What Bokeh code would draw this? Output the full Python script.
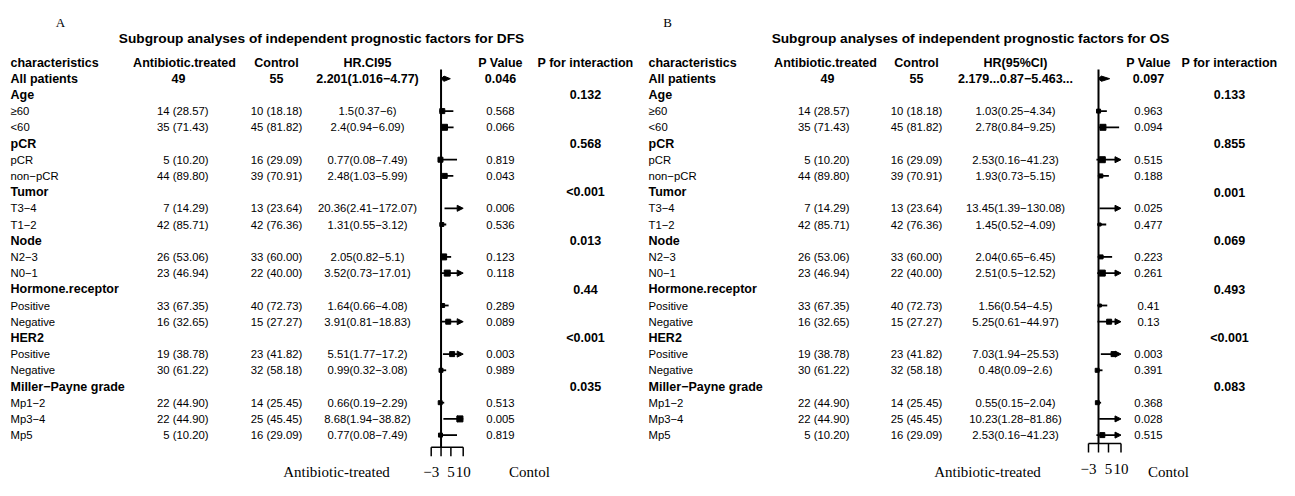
from bokeh.plotting import figure
from bokeh.models import Range1d, ColumnDataSource, Arrow, NormalHead
from bokeh.core.properties import value
from bokeh.embed import file_html
from bokeh.resources import INLINE

# ---------------- data ----------------
LABELS = ["All patients", "Age", "≥60", "<60", "pCR", "pCR", "non−pCR", "Tumor", "T3−4", "T1−2",
          "Node", "N2−3", "N0−1", "Hormone.receptor", "Positive", "Negative", "HER2", "Positive",
          "Negative", "Miller−Payne grade", "Mp1−2", "Mp3−4", "Mp5"]
BOLD_ROW = [True, True, False, False, True, False, False, True, False, False, True, False, False,
            True, False, False, True, False, False, True, False, False, False]
HEADERS_A = ["characteristics", "Antibiotic.treated", "Control", "HR.CI95", "P Value", "P for interaction"]
HEADERS_B = ["characteristics", "Antibiotic.treated", "Control", "HR(95%CI)", "P Value", "P for interaction"]

ANTIBIOTIC = ["49", "", "14 (28.57)", "35 (71.43)", "", "5 (10.20)", "44 (89.80)", "", "7 (14.29)",
              "42 (85.71)", "", "26 (53.06)", "23 (46.94)", "", "33 (67.35)", "16 (32.65)", "",
              "19 (38.78)", "30 (61.22)", "", "22 (44.90)", "22 (44.90)", "5 (10.20)"]
CONTROL = ["55", "", "10 (18.18)", "45 (81.82)", "", "16 (29.09)", "39 (70.91)", "", "13 (23.64)",
           "42 (76.36)", "", "33 (60.00)", "22 (40.00)", "", "40 (72.73)", "15 (27.27)", "",
           "23 (41.82)", "32 (58.18)", "", "14 (25.45)", "25 (45.45)", "16 (29.09)"]

DFS_HR_TEXT = ["2.201(1.016−4.77)", "", "1.5(0.37−6)", "2.4(0.94−6.09)", "", "0.77(0.08−7.49)",
               "2.48(1.03−5.99)", "", "20.36(2.41−172.07)", "1.31(0.55−3.12)", "", "2.05(0.82−5.1)",
               "3.52(0.73−17.01)", "", "1.64(0.66−4.08)", "3.91(0.81−18.83)", "", "5.51(1.77−17.2)",
               "0.99(0.32−3.08)", "", "0.66(0.19−2.29)", "8.68(1.94−38.82)", "0.77(0.08−7.49)"]
DFS_HR = [2.201, None, 1.5, 2.4, None, 0.77, 2.48, None, 20.36, 1.31, None, 2.05, 3.52, None,
          1.64, 3.91, None, 5.51, 0.99, None, 0.66, 8.68, 0.77]
DFS_LO = [1.016, None, 0.37, 0.94, None, 0.08, 1.03, None, 2.41, 0.55, None, 0.82, 0.73, None,
          0.66, 0.81, None, 1.77, 0.32, None, 0.19, 1.94, 0.08]
DFS_HI = [4.77, None, 6, 6.09, None, 7.49, 5.99, None, 172.07, 3.12, None, 5.1, 17.01, None,
          4.08, 18.83, None, 17.2, 3.08, None, 2.29, 38.82, 7.49]
DFS_P = ["0.046", "", "0.568", "0.066", "", "0.819", "0.043", "", "0.006", "0.536", "", "0.123",
         "0.118", "", "0.289", "0.089", "", "0.003", "0.989", "", "0.513", "0.005", "0.819"]
DFS_PINT = ["", "0.132", "", "", "0.568", "", "", "<0.001", "", "", "0.013", "", "", "0.44", "",
            "", "<0.001", "", "", "0.035", "", "", ""]

OS_HR_TEXT = ["2.179...0.87−5.463...", "", "1.03(0.25−4.34)", "2.78(0.84−9.25)", "", "2.53(0.16−41.23)",
              "1.93(0.73−5.15)", "", "13.45(1.39−130.08)", "1.45(0.52−4.09)", "", "2.04(0.65−6.45)",
              "2.51(0.5−12.52)", "", "1.56(0.54−4.5)", "5.25(0.61−44.97)", "", "7.03(1.94−25.53)",
              "0.48(0.09−2.6)", "", "0.55(0.15−2.04)", "10.23(1.28−81.86)", "2.53(0.16−41.23)"]
OS_HR = [2.179, None, 1.03, 2.78, None, 2.53, 1.93, None, 13.45, 1.45, None, 2.04, 2.51, None,
         1.56, 5.25, None, 7.03, 0.48, None, 0.55, 10.23, 2.53]
OS_LO = [0.87, None, 0.25, 0.84, None, 0.16, 0.73, None, 1.39, 0.52, None, 0.65, 0.5, None,
         0.54, 0.61, None, 1.94, 0.09, None, 0.15, 1.28, 0.16]
OS_HI = [5.463, None, 4.34, 9.25, None, 41.23, 5.15, None, 130.08, 4.09, None, 6.45, 12.52, None,
         4.5, 44.97, None, 25.53, 2.6, None, 2.04, 81.86, 41.23]
OS_P = ["0.097", "", "0.963", "0.094", "", "0.515", "0.188", "", "0.025", "0.477", "", "0.223",
        "0.261", "", "0.41", "0.13", "", "0.003", "0.391", "", "0.368", "0.028", "0.515"]
OS_PINT = ["", "0.133", "", "", "0.855", "", "", "0.001", "", "", "0.069", "", "", "0.493", "",
           "", "<0.001", "", "", "0.083", "", "", ""]

AXIS_TICKS = [-3, 1, 5, 10]
AXIS_TICK_LABELS = ["−3", "", "5", "10"]
X_MIN, X_MAX = -3, 10
REF_LINE = 1

# box sizes (px)
DFS_BOX = [0, 0, 5, 6, 0, 5, 5, 0, 0, 4, 0, 6, 6, 0, 4, 5, 0, 5, 4, 0, 4, 6, 4]
OS_BOX = [0, 0, 4, 6, 0, 6, 4, 0, 0, 3, 0, 4, 6, 0, 3, 5, 0, 5, 4, 0, 4, 0, 5]

# ---------------- layout ----------------
W, H = 1279, 480
PITCH = 16.2          # px per row
HEADER_PX = 62        # frame y of header row
row_top = -HEADER_PX / PITCH
row_bot = row_top + H / PITCH


def row_of(px):
    return (px - HEADER_PX) / PITCH


p = figure(width=W, height=H, output_backend="svg", toolbar_location=None,
           x_range=Range1d(0, W), y_range=Range1d(row_bot, row_top),
           min_border=0, outline_line_color=None)
p.axis.visible = False
p.grid.visible = False
p.background_fill_color = "white"
p.border_fill_color = "white"

SANS = value("Liberation Sans")
SERIF = value("Liberation Serif")
BIG = "12.5px"
SMALL = "11.3px"


def forest_range(px_lo, px_hi):
    k = (px_hi - px_lo) / (X_MAX - X_MIN)
    start = X_MIN - px_lo / k
    return Range1d(start, start + W / k)


def put(x, rows, texts, align="center", bold=False, size=SMALL, font=SANS):
    keep = [(r, t) for r, t in zip(rows, texts) if t != ""]
    if not keep:
        return
    src = ColumnDataSource(dict(x=[x] * len(keep), y=[k[0] for k in keep], t=[k[1] for k in keep]))
    p.text(x="x", y="y", text="t", source=src, text_align=align, text_baseline="middle",
           text_font=font, text_font_size=size, text_font_style="bold" if bold else "normal",
           text_color="black")


ROWS = list(range(1, len(LABELS) + 1))


def panel(cfg, headers, hr_text, hr, lo, hi, pv, pint, box, rng_name, title, letter):
    c = cfg
    put(c["letter"], [row_of(22)], [letter], align="center", size="13px", font=SERIF)
    put(c["title"], [row_of(38)], [title], bold=True, size="13.7px")
    # header
    put(c["lab"], [0], [headers[0]], align="left", bold=True, size=BIG)
    put(c["ab_h"], [0], [headers[1]], bold=True, size=BIG)
    put(c["ct"], [0], [headers[2]], bold=True, size=BIG)
    put(c["hr"], [0], [headers[3]], bold=True, size=BIG)
    put(c["p"], [0], [headers[4]], bold=True, size=BIG)
    put(c["pi"], [0], [headers[5]], bold=True, size=BIG)
    # labels
    put(c["lab"], [r for r, b in zip(ROWS, BOLD_ROW) if b], [l for l, b in zip(LABELS, BOLD_ROW) if b],
        align="left", bold=True, size=BIG)
    put(c["lab"], [r for r, b in zip(ROWS, BOLD_ROW) if not b], [l for l, b in zip(LABELS, BOLD_ROW) if not b],
        align="left", size=SMALL)
    # first data row is bold
    put(c["ab1"], [1], [ANTIBIOTIC[0]], bold=True, size=BIG)
    put(c["ct"], [1], [CONTROL[0]], bold=True, size=BIG)
    put(c["hr"], [1], [hr_text[0]], bold=True, size=BIG)
    put(c["p"], [1], [pv[0]], bold=True, size=BIG)
    put(c["ab_r"], ROWS[1:], ANTIBIOTIC[1:], align="right")
    put(c["ct"], ROWS[1:], CONTROL[1:])
    put(c["hr"], ROWS[1:], hr_text[1:])
    put(c["p"], ROWS[1:], pv[1:])
    put(c["pi"], ROWS, pint, bold=True, size=BIG)

    # forest
    p.extra_x_ranges[rng_name] = forest_range(c["f_lo"], c["f_hi"])
    axis_row = row_of(c["axis_px"])
    p.segment(x0=[REF_LINE], x1=[REF_LINE], y0=[row_of(69)], y1=[axis_row], x_range_name=rng_name,
              line_color="black", line_width=2)
    # summary diamond (first row)
    d = 2.6 / PITCH
    p.patch(x=[lo[0], hr[0], hi[0], hr[0]], y=[1, 1 - d, 1, 1 + d], x_range_name=rng_name,
            fill_color="black", line_color="black", line_width=1)
    seg = dict(x0=[], x1=[], y=[])
    arr = dict(x0=[], x1=[], y=[])
    sq = dict(x=[], y=[], s=[])
    for i in range(1, len(LABELS)):
        if hr[i] is None:
            continue
        r = ROWS[i]
        if hi[i] > X_MAX:
            arr["x0"].append(lo[i]); arr["x1"].append(X_MAX); arr["y"].append(r)
        else:
            seg["x0"].append(lo[i]); seg["x1"].append(hi[i]); seg["y"].append(r)
        if hr[i] <= X_MAX and box[i] > 0:
            sq["x"].append(hr[i]); sq["y"].append(r); sq["s"].append(box[i])
    p.segment(x0="x0", x1="x1", y0="y", y1="y", source=ColumnDataSource(seg), x_range_name=rng_name,
              line_color="black", line_width=1.8)
    p.add_layout(Arrow(end=NormalHead(size=6, fill_color="black", line_color="black", line_width=1),
                       x_start="x0", x_end="x1", y_start="y", y_end="y",
                       source=ColumnDataSource(arr), x_range_name=rng_name,
                       line_color="black", line_width=1.8))
    p.scatter(x="x", y="y", size="s", marker="square", source=ColumnDataSource(sq),
              x_range_name=rng_name, fill_color="black", line_color="black")
    # axis
    p.segment(x0=[X_MIN], x1=[X_MAX], y0=[axis_row], y1=[axis_row], x_range_name=rng_name,
              line_color="black", line_width=1.5)
    tick_end = row_of(c["axis_px"] + 9)
    p.segment(x0=AXIS_TICKS, x1=AXIS_TICKS, y0=[axis_row] * 4, y1=[tick_end] * 4,
              x_range_name=rng_name, line_color="black", line_width=1.5)
    lab = [(t, l) for t, l in zip(AXIS_TICKS, AXIS_TICK_LABELS) if l]
    src = ColumnDataSource(dict(x=[a for a, _ in lab], y=[row_of(c["tick_lab_px"])] * len(lab),
                                t=[b for _, b in lab]))
    p.text(x="x", y="y", text="t", source=src, x_range_name=rng_name, text_align="center",
           text_baseline="middle", text_font=SERIF, text_font_size="15px", text_color="black")
    # bottom labels
    put(c["anti_lab"], [row_of(c["bottom_px"])], ["Antibiotic-treated"], size="15px", font=SERIF)
    put(c["ctl_lab"], [row_of(c["bottom_px"])], ["Contol"], size="15px", font=SERIF)


CFG_A = dict(letter=60, title=321, lab=10, ab_h=184, ab1=178, ab_r=208, ct=276, hr=367, p=500, pi=585,
             f_lo=430.7, f_hi=462.7, axis_px=446.7, tick_lab_px=471, anti_lab=336, ctl_lab=529,
             bottom_px=471)
CFG_B = dict(letter=667, title=970, lab=648, ab_h=825, ab1=827, ab_r=849, ct=916, hr=1015, p=1148, pi=1229,
             f_lo=1088, f_hi=1120.5, axis_px=443, tick_lab_px=468, anti_lab=987, ctl_lab=1168,
             bottom_px=471)

panel(CFG_A, HEADERS_A, DFS_HR_TEXT, DFS_HR, DFS_LO, DFS_HI, DFS_P, DFS_PINT, DFS_BOX, "dfs",
      "Subgroup analyses of independent prognostic factors for DFS", "A")
panel(CFG_B, HEADERS_B, OS_HR_TEXT, OS_HR, OS_LO, OS_HI, OS_P, OS_PINT, OS_BOX, "os",
      "Subgroup analyses of independent prognostic factors for OS", "B")

open("out.html", "w").write(file_html(p, INLINE))
